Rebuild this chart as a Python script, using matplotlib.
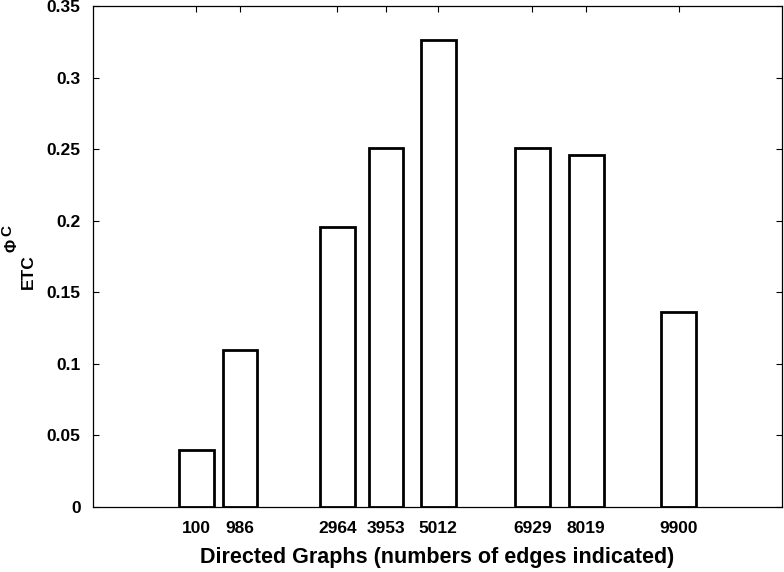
import matplotlib
matplotlib.use("Agg")
import matplotlib.pyplot as plt
import numpy as np
from matplotlib.ticker import FuncFormatter

plt.rcParams["font.family"] = ["Liberation Sans", "DejaVu Sans"]
plt.rcParams["font.weight"] = "bold"

# number of edges of each directed graph, and the measured ETC value
edges = [100, 986, 2964, 3953, 5012, 6929, 8019, 9900]
etc_values = [0.040, 0.110, 0.1955, 0.251, 0.3265, 0.251, 0.246, 0.136]
y_ticks = [0, 0.05, 0.1, 0.15, 0.2, 0.25, 0.3, 0.35]

W, H = 784, 572
fig = plt.figure(figsize=(W / 100, H / 100), dpi=100)
ax = fig.add_axes([93 / W, 65 / H, 689 / W, 501 / H])

width = 0.8 * np.min(np.diff(edges))
ax.bar(edges, etc_values, width=width, color="white", edgecolor="black",
       linewidth=2.0, zorder=2)

ax.set_xlim(-2000, 12000)
ax.set_ylim(0, 0.35)
ax.set_xticks(edges)
ax.set_xticklabels([str(e) for e in edges])
ax.set_yticks(y_ticks)
ax.yaxis.set_major_formatter(FuncFormatter(lambda v, _: f"{v:g}"))
ax.tick_params(direction="in", top=True, right=True, length=4.5,
               width=0.8, labelsize=12.5)
ax.tick_params(axis="x", pad=10)
ax.tick_params(axis="y", pad=9)
for lab in ax.get_xticklabels() + ax.get_yticklabels():
    lab.set_fontweight("bold")
for sp in ax.spines.values():
    sp.set_linewidth(0.9)

ax.set_xlabel("Directed Graphs (numbers of edges indicated)", fontsize=15.5,
              fontweight="bold", labelpad=8)

# y label ETC^(Phi^C), drawn in pieces so the superscripts keep MATLAB's size
fig.text(28.5 / W, 1 - 271.5 / H, "ETC", rotation=90, fontsize=12.5,
         fontweight="bold", ha="center", va="center")
fig.text(12 / W, 1 - 245 / H, "Φ", rotation=90, fontsize=11.5,
         fontweight="bold", ha="center", va="center")
fig.text(7.5 / W, 1 - 230.5 / H, "C", rotation=90, fontsize=11,
         fontweight="bold", ha="center", va="center")

fig.savefig("out.png", dpi=100)
